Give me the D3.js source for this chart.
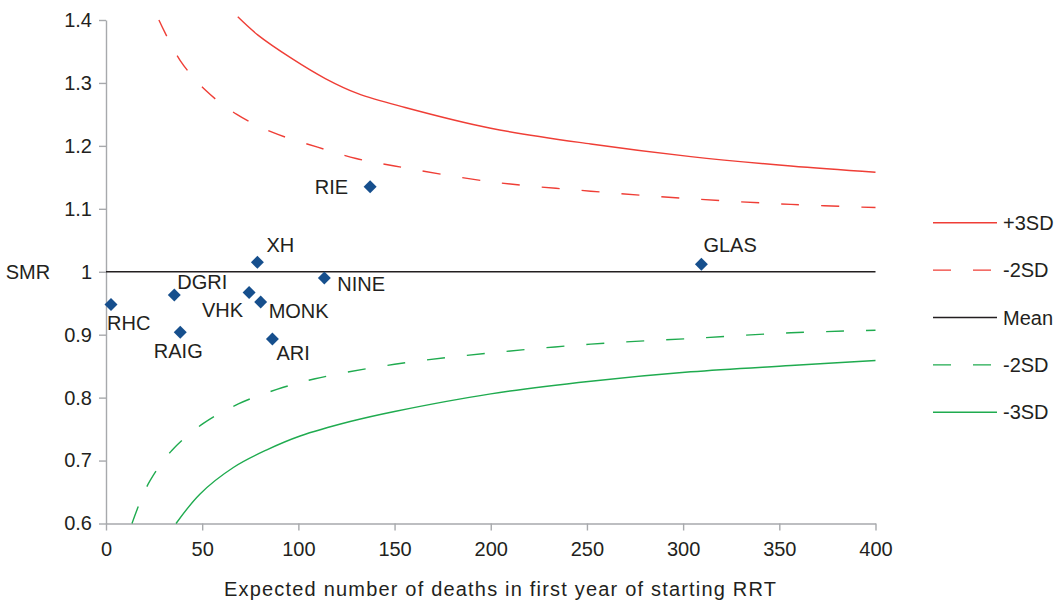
<!DOCTYPE html>
<html>
<head>
<meta charset="utf-8">
<script src="https://cdn.jsdelivr.net/npm/d3@7"></script>
<style>
	body { margin: 0; background: #fff; }
	svg { font-family: "Liberation Sans", Arial, Helvetica, sans-serif; }
</style>
</head>
<body>
<div id="chart"></div>
<script>
// data
const units = ["RHC", "DGRI", "RAIG", "XH", "VHK", "MONK", "ARI", "NINE", "RIE", "GLAS"];
const expected = [2.6, 35.5, 38.6, 78.7, 74.4, 80.4, 86.5, 113.5, 137.3, 309.5];
const smr = [0.948, 0.963, 0.904, 1.015, 0.967, 0.952, 0.893, 0.990, 1.135, 1.012];

// funnel limits
const plus3X = [68.5, 79, 96.5, 114, 131, 155.5, 200, 252, 304, 356, 400];
const plus3Y = [1.405, 1.376, 1.339, 1.307, 1.283, 1.261, 1.228, 1.203, 1.183, 1.168, 1.158];
const plus2X = [27.5, 38.5, 51.5, 68, 87, 110, 130, 150, 200, 252, 304, 356, 400];
const plus2Y = [1.400, 1.336, 1.289, 1.250, 1.221, 1.198, 1.180, 1.168, 1.143, 1.128, 1.116, 1.107, 1.102];
const minus2X = [13.5, 17.7, 22.9, 34.2, 50.6, 68.8, 88.8, 108.7, 150, 200, 252, 304, 356, 400];
const minus2Y = [0.600, 0.634, 0.668, 0.716, 0.759, 0.790, 0.813, 0.830, 0.853, 0.871, 0.885, 0.894, 0.903, 0.907];
const minus3X = [36.4, 48.9, 66.2, 83.6, 100.9, 126.9, 150, 200, 252, 304, 356, 400];
const minus3Y = [0.600, 0.647, 0.689, 0.717, 0.739, 0.762, 0.778, 0.806, 0.826, 0.841, 0.851, 0.859];
const meanX = [0, 400];
const meanY = [1, 1];

const xTicks = [0, 50, 100, 150, 200, 250, 300, 350, 400];
const yTicks = [0.6, 0.7, 0.8, 0.9, 1.0, 1.1, 1.2, 1.3, 1.4];
const legendLabels = ["+3SD", "-2SD", "Mean", "-2SD", "-3SD"];

const width = 1056;
const height = 601;
const fontSize = 20;
const textColor = "#231f20";
const axisColor = "#a7a9ac";
const red = "#ef3e36";
const green = "#1fab4f";

const x = d3.scaleLinear().domain([0, 400]).range([106, 875.5]);
const y = d3.scaleLinear().domain([0.6, 1.4]).range([523.5, 20]);

const svg = d3.select("#chart").append("svg")
	.attr("width", width)
	.attr("height", height);

// axes
const xAxis = g => g
	.attr("transform", `translate(0,${y(0.6)})`)
	.call(d3.axisBottom(x).tickValues(xTicks).tickSize(7).tickSizeOuter(0))
	.call(g => g.selectAll(".domain, line").attr("stroke", axisColor).attr("stroke-width", 1.4))
	.call(g => g.selectAll("text").attr("fill", textColor).attr("font-size", fontSize).attr("dy", "1.12em"));

const yAxis = g => g
	.attr("transform", `translate(${x(0)},0)`)
	.call(d3.axisLeft(y).tickValues(yTicks).tickSize(7).tickSizeOuter(0).tickFormat(d => String(+d.toFixed(1))))
	.call(g => g.selectAll(".domain, line").attr("stroke", axisColor).attr("stroke-width", 1.4))
	.call(g => g.selectAll("text").attr("fill", textColor).attr("font-size", fontSize).attr("x", -14));

svg.append("g").call(xAxis);
svg.append("g").call(yAxis);

svg.append("text")
	.attr("x", 28)
	.attr("y", y(1))
	.attr("dy", "0.35em")
	.attr("text-anchor", "middle")
	.attr("font-size", fontSize)
	.attr("fill", textColor)
	.text("SMR");

svg.append("text")
	.attr("x", 224)
	.attr("y", 596)
	.attr("textLength", 552)
	.attr("lengthAdjust", "spacing")
	.attr("font-size", fontSize)
	.attr("fill", textColor)
	.text("Expected number of deaths in first year of starting RRT");

// funnel lines
const line = d3.line()
	.x(d => x(d[0]))
	.y(d => y(d[1]))
	.curve(d3.curveCatmullRom.alpha(0.5));

const series = [
	{xs: plus3X, ys: plus3Y, color: red, dash: null},
	{xs: plus2X, ys: plus2Y, color: red, dash: "18,22"},
	{xs: meanX, ys: meanY, color: "#231f20", dash: null},
	{xs: minus2X, ys: minus2Y, color: green, dash: "18,22"},
	{xs: minus3X, ys: minus3Y, color: green, dash: null}
];

series.forEach(s => {
	svg.append("path")
		.datum(s.xs.map((v, i) => [v, s.ys[i]]))
		.attr("fill", "none")
		.attr("stroke", s.color)
		.attr("stroke-width", s.color === "#231f20" ? 1.3 : 1.4)
		.attr("stroke-dasharray", s.dash)
		.attr("d", line);
});

// points
const points = units.map((name, i) => ({name: name, e: expected[i], smr: smr[i]}));

svg.append("g")
	.selectAll("path")
	.data(points)
	.join("path")
		.attr("transform", d => `translate(${x(d.e)},${y(d.smr)}) rotate(45)`)
		.attr("d", d3.symbol(d3.symbolSquare, 84))
		.attr("fill", "#164f8d");

// where each label sits relative to its point
const labelPos = {
	RHC: [-4, 26, "start"],
	DGRI: [3, -6, "start"],
	RAIG: [-2, 26, "middle"],
	XH: [9, -10, "start"],
	VHK: [-6, 24, "end"],
	MONK: [8, 16, "start"],
	ARI: [4, 21, "start"],
	NINE: [13, 13, "start"],
	RIE: [-22, 7, "end"],
	GLAS: [2, -12, "start"]
};

svg.append("g")
	.selectAll("text")
	.data(points)
	.join("text")
		.attr("x", d => x(d.e) + labelPos[d.name][0])
		.attr("y", d => y(d.smr) + labelPos[d.name][1])
		.attr("text-anchor", d => labelPos[d.name][2])
		.attr("font-size", fontSize)
		.attr("fill", textColor)
		.text(d => d.name);

// legend
const legend = svg.append("g")
	.selectAll("g")
	.data(series)
	.join("g")
		.attr("transform", (d, i) => `translate(933,${222.7 + i * 47.4})`);

legend.append("line")
	.attr("x1", 0)
	.attr("x2", d => d.dash ? 58 : 64)
	.attr("stroke", d => d.color)
	.attr("stroke-width", 1.4)
	.attr("stroke-dasharray", d => d.dash);

legend.append("text")
	.attr("x", 70)
	.attr("dy", "0.35em")
	.attr("font-size", fontSize)
	.attr("fill", textColor)
	.text((d, i) => legendLabels[i]);
</script>
</body>
</html>
